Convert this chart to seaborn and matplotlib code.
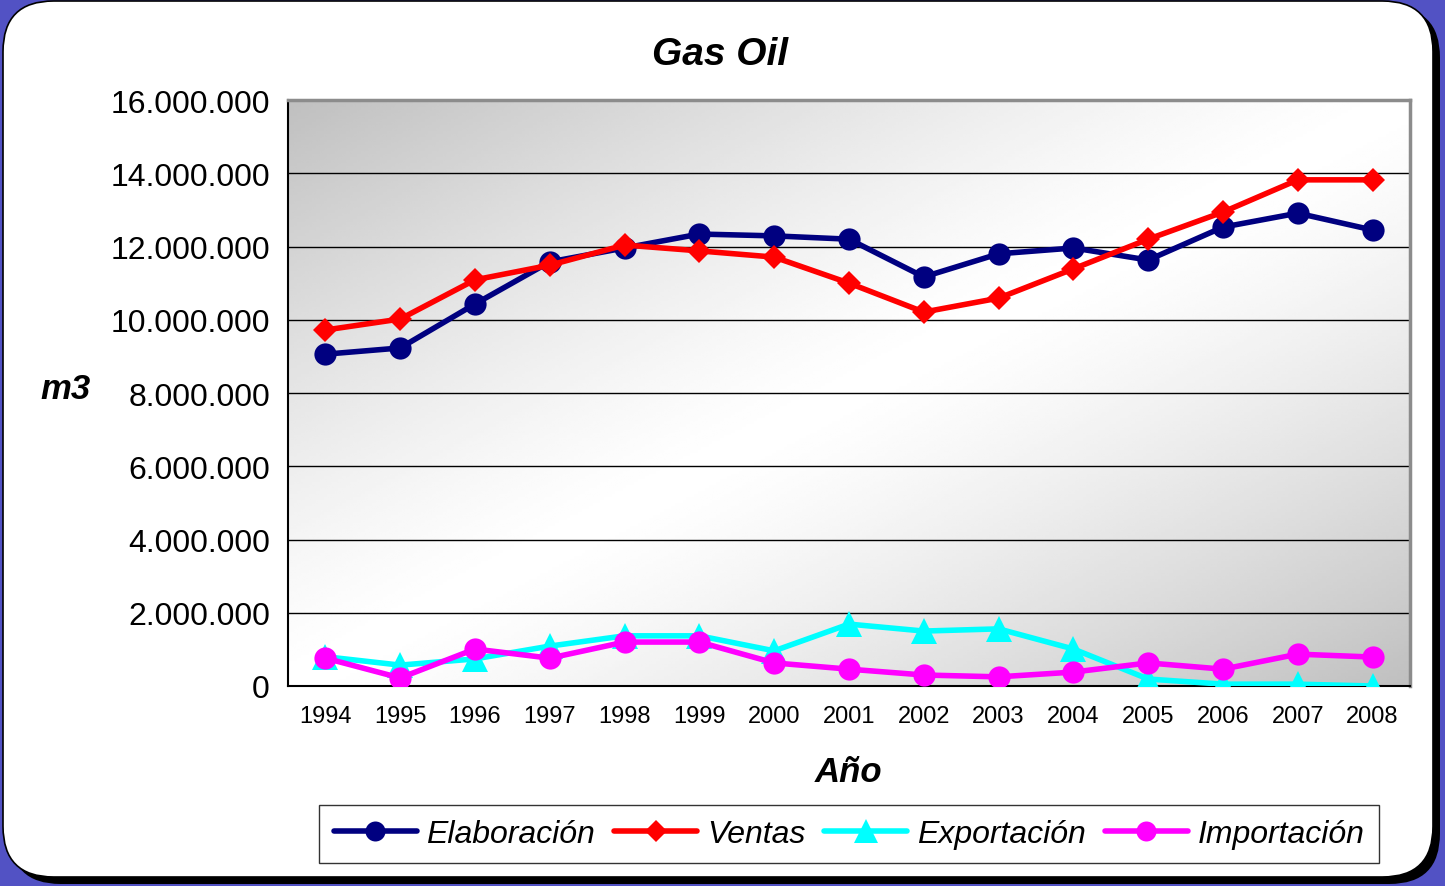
import numpy as np
import pandas as pd
import matplotlib
matplotlib.use('Agg')
import matplotlib.pyplot as plt
import seaborn as sns
from matplotlib.patches import FancyBboxPatch
from matplotlib.lines import Line2D

years = ['1994', '1995', '1996', '1997', '1998', '1999', '2000', '2001',
         '2002', '2003', '2004', '2005', '2006', '2007', '2008']
elaboracion = [9060000, 9230000, 10430000, 11580000, 11960000, 12340000, 12290000, 12200000,
               11170000, 11800000, 11960000, 11630000, 12530000, 12910000, 12450000]
ventas = [9720000, 10020000, 11090000, 11490000, 12040000, 11880000, 11710000, 11000000,
          10210000, 10590000, 11390000, 12200000, 12940000, 13820000, 13820000]
exportacion = [800000, 570000, 740000, 1090000, 1370000, 1370000, 960000, 1690000,
               1500000, 1560000, 1010000, 190000, 50000, 50000, 0]
importacion = [760000, 220000, 1010000, 760000, 1200000, 1200000, 630000, 460000,
               300000, 250000, 380000, 630000, 460000, 870000, 790000]

series = [
    ('Elaboración', elaboracion, '#000080', 'o', 16),
    ('Ventas', ventas, '#ff0000', 'D', 12),
    ('Exportación', exportacion, '#00ffff', '^', 19),
    ('Importación', importacion, '#ff00ff', 'o', 16),
]

sns.set_style('white')
plt.rcParams['font.family'] = ['Liberation Sans', 'DejaVu Sans']
plt.rcParams['text.color'] = 'black'
plt.rcParams['xtick.color'] = 'black'
plt.rcParams['ytick.color'] = 'black'

fig = plt.figure(figsize=(14.45, 8.87), dpi=100)
fig.patch.set_facecolor('#5252c4')

# rounded white panel with black shadow
shadow = FancyBboxPatch((10 / 1445, 2 / 887), 1430 / 1445, 877 / 887,
                        boxstyle='round,pad=0,rounding_size=0.035',
                        transform=fig.transFigure, facecolor='black',
                        edgecolor='none', zorder=0, mutation_aspect=1445 / 887)
panel = FancyBboxPatch((3 / 1445, 9 / 887), 1430 / 1445, 876 / 887,
                       boxstyle='round,pad=0,rounding_size=0.035',
                       transform=fig.transFigure, facecolor='white',
                       edgecolor='black', linewidth=1.2, zorder=1,
                       mutation_aspect=1445 / 887)
fig.patches.extend([shadow, panel])

ax = fig.add_axes([288 / 1445, 200 / 887, 1122 / 1445, 586 / 887])
ax.set_zorder(2)
ax.patch.set_alpha(0)

# diagonal gray-white-gray gradient of the plot area
gx, gy = np.meshgrid(np.linspace(0, 1, 300), np.linspace(1, 0, 200))
t = (gx + (1 - gy)) / 2
shade = 1 - 0.25 * np.abs(2 * t - 1) ** 1.3
ax.imshow(shade, cmap='gray', vmin=0, vmax=1, extent=[0, 1, 0, 1],
          transform=ax.transAxes, aspect='auto', zorder=0, interpolation='bilinear')

x = np.arange(len(years))
for name, vals, color, marker, ms in series:
    df = pd.DataFrame({'x': x, 'y': vals})
    sns.lineplot(data=df, x='x', y='y', ax=ax, color=color, marker=marker,
                 markersize=ms, markeredgewidth=0, linewidth=4, zorder=3)

ax.set_xlim(-0.5, 14.5)
ax.set_ylim(0, 16000000)
ax.set_yticks(np.arange(0, 16000001, 2000000))
ax.yaxis.set_major_formatter(plt.FuncFormatter(lambda v, p: f'{int(v):,}'.replace(',', '.')))
ax.set_xticks(x)
ax.set_xticklabels(years)
ax.set_xticks(np.arange(-0.5, 15, 1), minor=True)
ax.tick_params(axis='x', which='major', length=0, pad=14, labelsize=17)
ax.tick_params(axis='x', which='minor', length=7, width=1.2, direction='out', color='black')
ax.tick_params(axis='y', which='major', length=7, width=1.2, direction='out', color='black',
               pad=6, labelsize=23)
ax.grid(axis='y', color='black', linewidth=1)
ax.grid(axis='x', visible=False)
ax.set_axisbelow(True)
ax.set_xlabel('')
ax.set_ylabel('')
for side in ['left', 'bottom']:
    ax.spines[side].set_color('black')
    ax.spines[side].set_linewidth(1.5)
for side in ['top', 'right']:
    ax.spines[side].set_color('#8c8c8c')
    ax.spines[side].set_linewidth(2.5)
    ax.spines[side].set_visible(True)

fig.text(720 / 1445, 1 - 55 / 887, 'Gas Oil', ha='center', va='center',
         fontsize=28, fontweight='bold', fontstyle='italic', zorder=5)
fig.text(66 / 1445, 1 - 390 / 887, 'm3', ha='center', va='center',
         fontsize=25, fontweight='bold', fontstyle='italic', zorder=5)
fig.text(849 / 1445, 1 - 773 / 887, 'Año', ha='center', va='center',
         fontsize=25, fontweight='bold', fontstyle='italic', zorder=5)

handles = [Line2D([], [], color=c, marker=m, markersize=ms * 0.9, markeredgewidth=0, linewidth=4)
           for _, _, c, m, ms in series]
leg = fig.legend(handles, [s[0] for s in series], loc='center', ncol=4,
                 bbox_to_anchor=(849 / 1445, 1 - 835 / 887),
                 prop={'size': 23, 'style': 'italic'}, frameon=True, fancybox=False,
                 handlelength=2.6, handletextpad=0.3, columnspacing=0.6,
                 borderpad=0.45, borderaxespad=0)
leg.get_frame().set_edgecolor('black')
leg.get_frame().set_linewidth(1)
leg.set_zorder(5)

plt.savefig('out.png', dpi=100, facecolor=fig.get_facecolor())
